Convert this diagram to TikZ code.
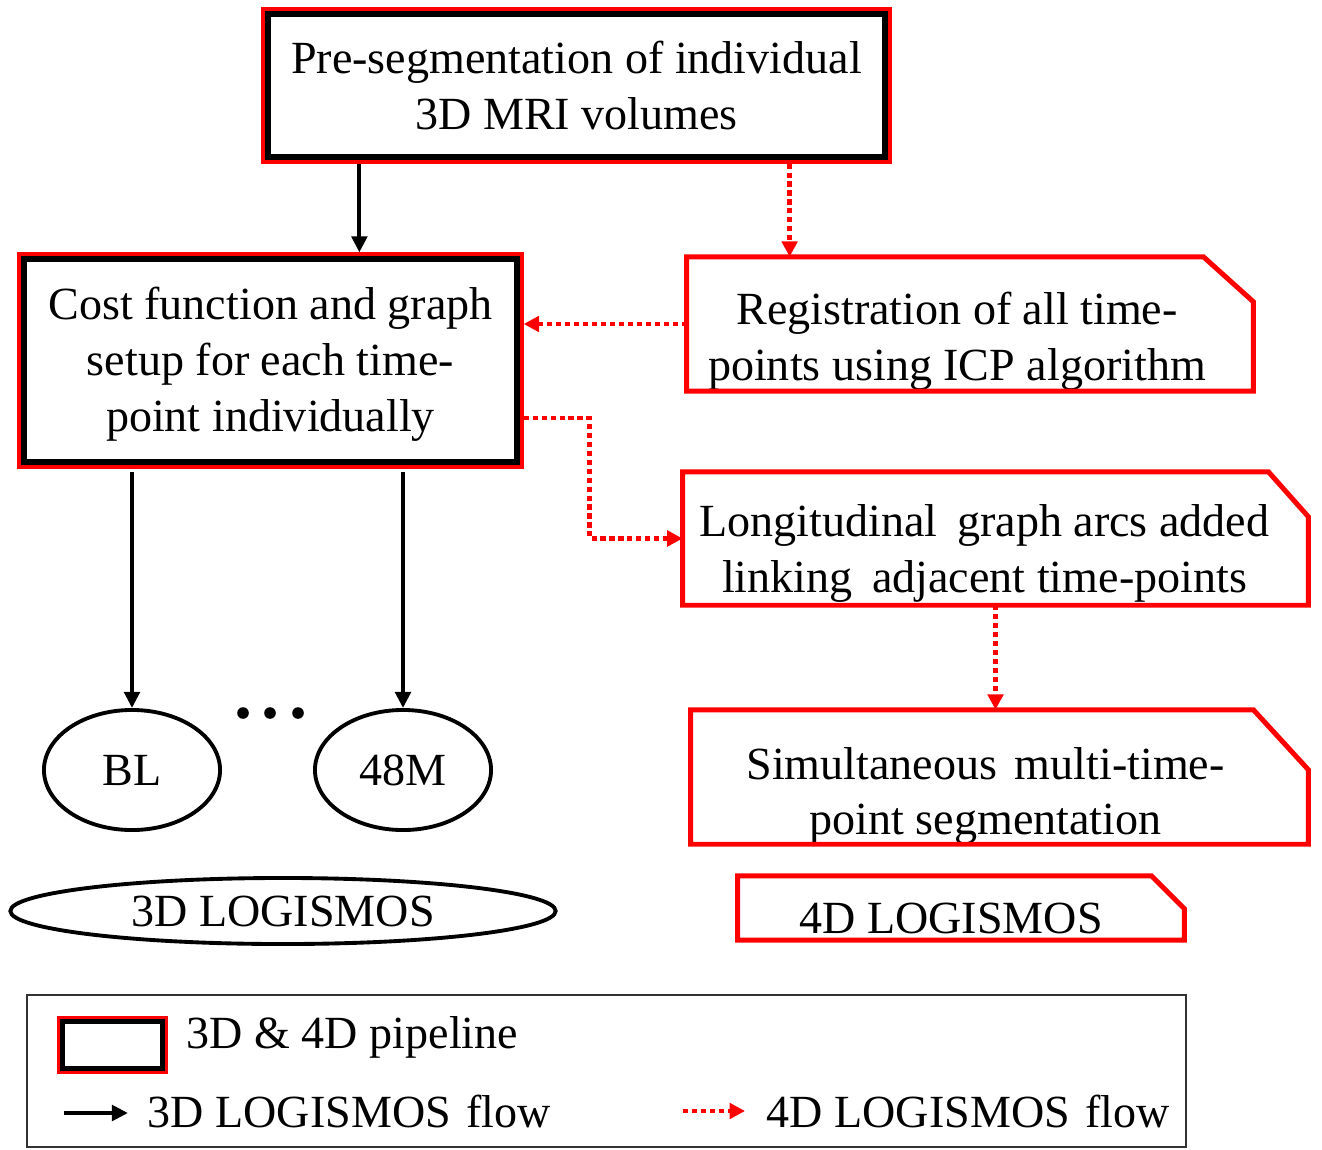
\documentclass[tikz,border=0pt]{standalone}
\usepackage{fontspec}
\setmainfont{Liberation Serif}
\usetikzlibrary{arrows.meta,shapes.geometric,calc}
\begin{document}
\begin{tikzpicture}[x=0.01cm,y=-0.01cm,
  txt/.style={font=\fontsize{13.1}{15.9}\selectfont, align=center, inner sep=0},
  redbox/.style={draw=red, line width=1.42pt, rectangle, inner sep=0},
  blackin/.style={draw=black, line width=1.7pt},
  chbox/.style={rectangle, inner sep=0, draw=none},
  redline/.style={draw=red, line width=1.42pt, line join=miter},
  arr3/.style={draw=black, line width=1.15pt, -{Triangle[length=4.6pt,width=4.4pt]}},
  arr4/.style={draw=red, line width=1.4pt, dash pattern=on 1.45pt off 1.1pt, -{Triangle[length=4.4pt,width=4.4pt]}},
  ell/.style={draw=black, line width=1.1pt, ellipse, inner sep=0},
]
\useasboundingbox (0,0) rectangle (1322,1149);

% top box
\node[redbox, minimum width=6.25cm, minimum height=1.51cm,
  label={[txt, yshift=0.0cm]center:{Pre-segmentation of individual\\3D MRI volumes}}] (top) at (576.5,85.5) {};
\draw[blackin] ([shift={(0.07cm,-0.07cm)}]top.north west) rectangle ([shift={(-0.07cm,0.07cm)}]top.south east);

% cost box
\node[redbox, minimum width=5.01cm, minimum height=2.11cm,
  label={[txt, yshift=-0.04cm]center:{Cost function and graph\\setup for each time-\\point individually}}] (cost) at (270.5,360.5) {};
\draw[blackin] ([shift={(0.07cm,-0.07cm)}]cost.north west) rectangle ([shift={(-0.07cm,0.07cm)}]cost.south east);

% registration
\node[chbox, minimum width=5.65cm, minimum height=1.33cm,
  label={[txt, xshift=-0.13cm, yshift=-0.17cm]center:{Registration of all time-\\points using ICP algorithm}}] (reg) at (970,324) {};
\draw[redline] (reg.south west) -- (reg.north west) -- ([xshift=-0.5cm]reg.north east) -- ([yshift=-0.45cm]reg.north east) -- (reg.south east) -- cycle;

% longitudinal
\node[chbox, minimum width=6.24cm, minimum height=1.32cm,
  label={[txt, xshift=-0.11cm, yshift=-0.15cm]center:{Longitudinal\hspace{0.08cm} graph arcs added\\linking\hspace{0.08cm} adjacent time-points}}] (long) at (995.5,538.5) {};
\draw[redline] (long.south west) -- (long.north west) -- ([xshift=-0.4cm]long.north east) -- ([yshift=-0.45cm]long.north east) -- (long.south east) -- cycle;

% simultaneous
\node[chbox, minimum width=6.16cm, minimum height=1.33cm,
  label={[txt, xshift=-0.14cm, yshift=-0.19cm]center:{Simultaneous\hspace{0.06cm} multi-time-\\point segmentation}}] (simul) at (999.5,777) {};
\draw[redline] (simul.south west) -- (simul.north west) -- ([xshift=-0.55cm]simul.north east) -- ([yshift=-0.6cm]simul.north east) -- (simul.south east) -- cycle;

% 4D LOGISMOS
\node[chbox, minimum width=4.45cm, minimum height=0.63cm,
  label={[txt, xshift=-0.1cm, yshift=-0.1cm]center:{4D LOGISMOS}}] (l4d) at (961,908) {};
\draw[redline] (l4d.south west) -- (l4d.north west) -- ([xshift=-0.33cm]l4d.north east) -- ([yshift=-0.33cm]l4d.north east) -- (l4d.south east) -- cycle;

% ellipses
\node[ell, txt, minimum width=1.76cm, minimum height=1.2cm] (bl) at (132,770) {BL};
\node[ell, txt, minimum width=1.76cm, minimum height=1.2cm] (m48) at (403,770) {48M};
\node[ell, txt, minimum width=5.45cm, minimum height=0.66cm] (l3d) at (283,911) {3D LOGISMOS};

% dots
\fill (243,713) circle[radius=0.058cm];
\fill (270,713) circle[radius=0.058cm];
\fill (298,713) circle[radius=0.058cm];

% connectors
\draw[arr3] ([xshift=0.98cm]top.south west) -- ([xshift=0.98cm]top.south west |- cost.north);
\draw[arr4] ([xshift=5.28cm]top.south west) -- ([xshift=5.28cm]top.south west |- reg.north);
\draw[arr4] (reg.west) -- (reg.west -| cost.east);
\draw[arr4] ([yshift=-0.575cm]cost.east) -- ++(66,0) |- (long.west);
\draw[arr4] (long.south) -- (long.south |- simul.north);
\draw[arr3] ([yshift=-0.03cm]cost.south -| bl.north) -- (bl.north);
\draw[arr3] ([yshift=-0.03cm]cost.south -| m48.north) -- (m48.north);

% legend
\node[draw=black!80, line width=0.6pt, rectangle, inner sep=0, minimum width=11.59cm, minimum height=1.52cm] (legend) at (606.5,1071) {};
\node[draw=red, line width=1.2pt, rectangle, inner sep=0, minimum width=1.07cm, minimum height=0.54cm] (icon) at (112.5,1045) {};
\draw[draw=black, line width=1.45pt] ([shift={(0.055cm,-0.055cm)}]icon.north west) rectangle ([shift={(-0.055cm,0.055cm)}]icon.south east);
\node[txt, anchor=base west] (lg1) at (186,1048) {3D \& 4D pipeline};
\coordinate (a3s) at (64,1113);
\coordinate (a3e) at (128,1113);
\draw[arr3] (a3s) -- (a3e);
\node[txt, anchor=base west] (lg2) at (147,1127) {3D LOGISMOS\hspace{0.04cm} flow};
\coordinate (a4s) at (683,1111);
\coordinate (a4e) at (745,1111);
\draw[arr4] (a4s) -- (a4e);
\node[txt, anchor=base west] (lg3) at (766,1127) {4D LOGISMOS\hspace{0.04cm} flow};
\end{tikzpicture}
\end{document}
